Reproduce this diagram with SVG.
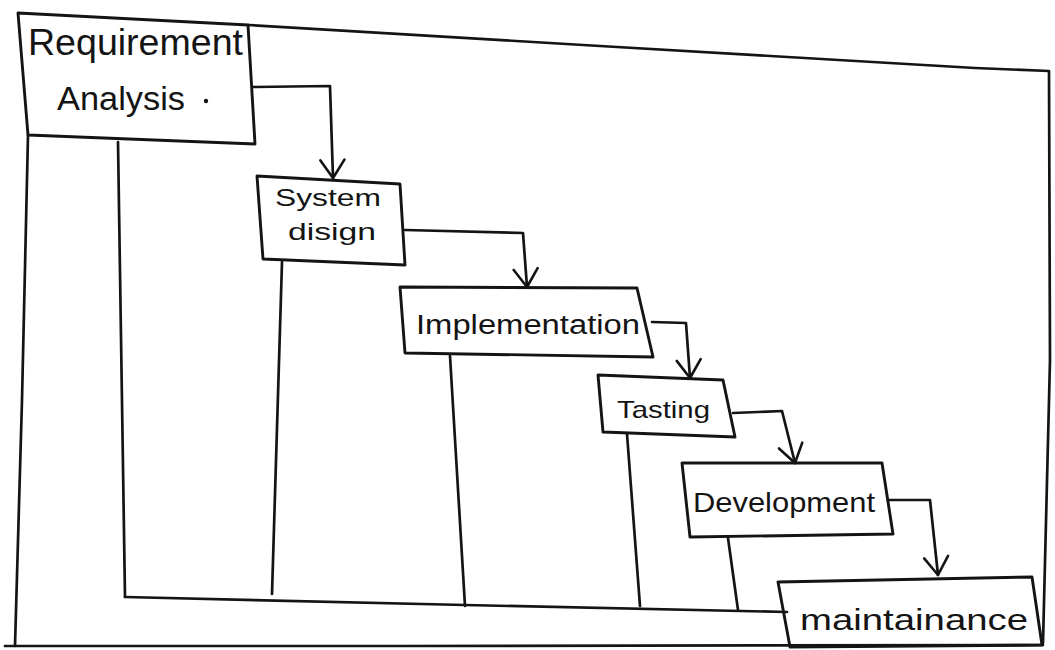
<svg xmlns="http://www.w3.org/2000/svg" width="1055" height="650" viewBox="0 0 1055 650">
  <defs>
    <style>
      .ln{fill:none;stroke:#141414;stroke-width:2.7;stroke-linecap:round;stroke-linejoin:round}
      .bx{fill:none;stroke:#141414;stroke-width:2.9;stroke-linejoin:round}
      .tx{font-family:"Liberation Sans","DejaVu Sans",sans-serif;fill:#141414}
    </style>
    <marker id="v" viewBox="-2 -14 22 28" markerWidth="22" markerHeight="28" refX="18" refY="0" orient="auto" markerUnits="userSpaceOnUse">
      <path d="M0,-12 L18,0 L0,12" fill="none" stroke="#141414" stroke-width="2.6" stroke-linecap="round" stroke-linejoin="round"/>
    </marker>
  </defs>
  <rect width="1055" height="650" fill="#ffffff"/>

  <g id="frame">
    <path class="ln" d="M248,25 L600,46 L975,68 L1049,71 L1050,360 L1043,643"/>
    <path class="ln" d="M5,646 L400,646 L1043,645"/>
    <path class="ln" d="M28,135 L22,400 L15,646"/>
  </g>

  <g id="connectors">
    <path class="ln" d="M253,87 L330,86 L333,178" marker-end="url(#v)"/>
    <path class="ln" d="M405,230 L523,233 L527,287" marker-end="url(#v)"/>
    <path class="ln" d="M652,322 L686,323 L690,378" marker-end="url(#v)"/>
    <path class="ln" d="M733,413 L782,411 L795,463" marker-end="url(#v)"/>
    <path class="ln" d="M888,500 L930,500 L938,575" marker-end="url(#v)"/>
    <path class="ln" d="M118,142 L125,597"/>
    <path class="ln" d="M282,262 L272,594"/>
    <path class="ln" d="M450,356 L465,606"/>
    <path class="ln" d="M627,434 L640,606"/>
    <path class="ln" d="M728,538 L738,610"/>
    <path class="ln" d="M125,597 L465,605 L787,612"/>
  </g>

  <g id="requirement-analysis">
    <path class="bx" d="M18,13 L248,25 L255,144 L28,135 Z"/>
    <text class="tx" x="28" y="55" font-size="36" textLength="215" lengthAdjust="spacingAndGlyphs">Requirement</text>
    <text class="tx" x="57" y="110" font-size="34" textLength="128" lengthAdjust="spacingAndGlyphs">Analysis</text>
    <circle cx="206" cy="101" r="2.2" fill="#141414"/>
  </g>

  <g id="system-design">
    <path class="bx" d="M257,176 L400,184 L405,265 L263,259 Z"/>
    <text class="tx" x="275" y="206" font-size="23" textLength="106" lengthAdjust="spacingAndGlyphs">System</text>
    <text class="tx" x="288" y="240" font-size="24" textLength="88" lengthAdjust="spacingAndGlyphs">disign</text>
  </g>

  <g id="implementation">
    <path class="bx" d="M400,287 L637,288 L653,357 L405,353 Z"/>
    <text class="tx" x="416" y="334" font-size="27" textLength="224" lengthAdjust="spacingAndGlyphs">Implementation</text>
  </g>

  <g id="testing">
    <path class="bx" d="M598,375 L723,380 L735,437 L603,432 Z"/>
    <text class="tx" x="617" y="418" font-size="24" textLength="93" lengthAdjust="spacingAndGlyphs">Tasting</text>
  </g>

  <g id="development">
    <path class="bx" d="M682,463 L882,463 L893,534 L690,537 Z"/>
    <text class="tx" x="693" y="512" font-size="28" textLength="182" lengthAdjust="spacingAndGlyphs">Development</text>
  </g>

  <g id="maintenance">
    <path class="bx" d="M778,582 L1032,577 L1042,645 L790,647 Z"/>
    <text class="tx" x="800" y="630" font-size="30" textLength="228" lengthAdjust="spacingAndGlyphs">maintainance</text>
  </g>
</svg>
